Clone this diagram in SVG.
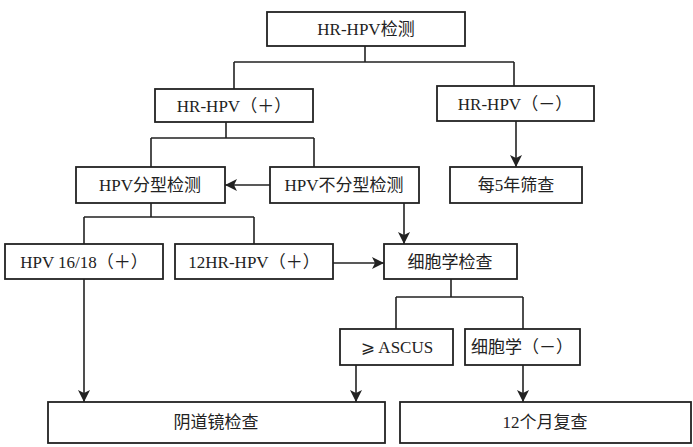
<svg xmlns="http://www.w3.org/2000/svg" width="693" height="447" viewBox="0 0 693 447">
<style>
.box{fill:#fff;stroke:#222;stroke-width:1.8}
.t{font-family:"Liberation Serif","Noto Sans CJK SC","DejaVu Sans",serif;font-size:17px;fill:#222;text-anchor:middle;dominant-baseline:central}
.ln{fill:none;stroke:#222;stroke-width:1.6}
</style>
<defs>
<marker id="ar" viewBox="0 0 12 12" refX="12" refY="6" markerWidth="12" markerHeight="12" markerUnits="userSpaceOnUse" orient="auto">
<path d="M0,0 L12,6 L0,12 L3,6 Z" fill="#222"/>
</marker>
</defs>
<g id="connectors">
<path class="ln" d="M365,46 V62 M234,62 H514 M234,62 V89 M514,62 V86"/>
<path class="ln" d="M226,122 V138 M151,138 H314 M151,138 V167 M314,138 V167"/>
<path class="ln" d="M516,121 V167" marker-end="url(#ar)"/>
<path class="ln" d="M270,185 H225" marker-end="url(#ar)"/>
<path class="ln" d="M151,203 V217 M84,217 H254 M84,217 V244 M254,217 V244"/>
<path class="ln" d="M404,203 V244" marker-end="url(#ar)"/>
<path class="ln" d="M333,263 H384" marker-end="url(#ar)"/>
<path class="ln" d="M451,279 V297 M396,297 H523 M396,297 V329 M523,297 V329"/>
<path class="ln" d="M84,279 V402" marker-end="url(#ar)"/>
<path class="ln" d="M356,365 V402" marker-end="url(#ar)"/>
<path class="ln" d="M523,365 V402" marker-end="url(#ar)"/>
</g>
<g id="n1"><rect class="box" x="267" y="12" width="198" height="34"/><text class="t" x="366" y="29">HR-HPV检测</text></g>
<g id="n2"><rect class="box" x="155" y="89" width="158" height="33"/><text class="t" x="234" y="106">HR-HPV（＋）</text></g>
<g id="n3"><rect class="box" x="437" y="86" width="157" height="35"/><text class="t" x="515" y="104">HR-HPV（－）</text></g>
<g id="n4"><rect class="box" x="76" y="167" width="149" height="36"/><text class="t" x="150" y="185">HPV分型检测</text></g>
<g id="n5"><rect class="box" x="270" y="167" width="149" height="36"/><text class="t" x="344" y="185">HPV不分型检测</text></g>
<g id="n6"><rect class="box" x="450" y="167" width="132" height="36"/><text class="t" x="516" y="185">每5年筛查</text></g>
<g id="n7"><rect class="box" x="5" y="244" width="158" height="35"/><text class="t" x="84" y="262">HPV 16/18（＋）</text></g>
<g id="n8"><rect class="box" x="175" y="244" width="158" height="35"/><text class="t" x="254" y="262">12HR-HPV（＋）</text></g>
<g id="n9"><rect class="box" x="384" y="244" width="133" height="35"/><text class="t" x="450" y="262">细胞学检查</text></g>
<g id="n10"><rect class="box" x="340" y="329" width="113" height="36"/><text class="t" x="397" y="347">⩾ ASCUS</text></g>
<g id="n11"><rect class="box" x="465" y="329" width="115" height="36"/><text class="t" x="522" y="347">细胞学（－）</text></g>
<g id="n12"><rect class="box" x="48" y="402" width="337" height="41"/><text class="t" x="216" y="422">阴道镜检查</text></g>
<g id="n13"><rect class="box" x="400" y="402" width="291" height="41"/><text class="t" x="545" y="422">12个月复查</text></g>
</svg>
